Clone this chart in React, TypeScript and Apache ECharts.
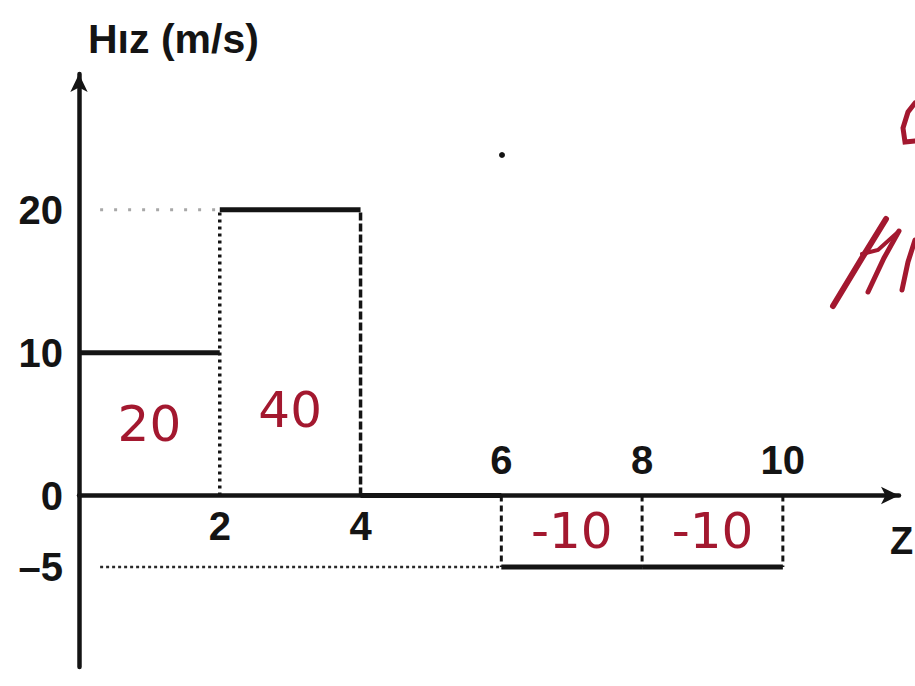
import React, { useEffect, useRef } from 'react';
import * as echarts from 'echarts';

// Velocity–time step graph: interval boundaries (s) and the constant speed (m/s) on each interval
const times = [0, 2, 4, 6, 8, 10];
const speeds = [10, 20, 0, -5, -5];

// Tick labels
const yTicks = [20, 10, 0, -5];
const xTicksBelow = [2, 4];
const xTicksAbove = [6, 8, 10];

const INK = '#141414';
const RED = '#a3182f';
const FONT = "'Liberation Sans', Arial, Helvetica, sans-serif";

// plot frame
const W = 915;
const H = 686;
const GRID = { left: 79, right: 16, top: 74, bottom: 19 };
const Y_MIN = -12;
const Y_MAX = 29.5;
const X_MAX = 11.65;

type Pt = [number, number];

export default function App() {
  const ref = useRef<HTMLDivElement>(null);

  useEffect(() => {
    if (!ref.current) return;
    const chart = echarts.init(ref.current, null, { renderer: 'svg' });

    // pixel row of v = 0 inside the grid, used to pin both x axes onto the zero line
    const plotH = H - GRID.top - GRID.bottom;
    const zeroY = GRID.top + (Y_MAX / (Y_MAX - Y_MIN)) * plotH;
    const bottomOffset = -(H - GRID.bottom - zeroY);
    const topOffset = -(zeroY - GRID.top);

    const seg = (pts: Pt[], lineStyle: any, z = 3) => ({
      type: 'line',
      data: pts,
      symbol: 'none',
      silent: true,
      z,
      lineStyle: { cap: 'butt', ...lineStyle },
    });

    // solid speed levels
    const stepSeries = speeds.map((v, i) =>
      seg([[times[i], v], [times[i + 1], v]], { color: INK, width: 5 }, 5)
    );

    // vertical guides at each boundary, up/down to the larger adjacent level
    const boundaryStyles: Record<number, any> = {
      2: { color: INK, width: 3.5, type: [3, 4] },
      4: { color: INK, width: 3.5, type: [8, 3] },
      6: { color: INK, width: 3, type: [6, 4] },
      8: { color: INK, width: 3, type: [6, 4] },
      10: { color: INK, width: 3, type: [6, 4] },
    };
    const verticalSeries = times.slice(1).map((t, k) => {
      const i = k + 1;
      const a = speeds[i - 1];
      const b = speeds[i] ?? 0;
      const level = Math.abs(a) >= Math.abs(b) ? a : b;
      return seg([[t, 0], [t, level]], boundaryStyles[t]);
    });

    // dotted horizontal guides from the vertical axis to where a new level starts
    const seen = new Set<number>();
    const guideSeries: any[] = [];
    speeds.forEach((v, i) => {
      if (v === 0 || seen.has(v)) return;
      seen.add(v);
      if (times[i] === 0) return;
      const style =
        v > 0
          ? { color: '#a8a8a8', width: 3, type: [3, 11] }
          : { color: '#2a2a2a', width: 2.5, type: [3, 3] };
      guideSeries.push(seg([[0.3, v], [times[i], v]], style, 2));
    });

    // handwritten area (displacement) of each interval
    const areaData = speeds
      .map((v, i) => ({
        value: [(times[i] + times[i + 1]) / 2, v > 0 ? Math.min(v / 2, 6) : v / 2],
        area: v * (times[i + 1] - times[i]),
      }))
      .filter((d) => d.area !== 0);

    const areaSeries = {
      type: 'scatter',
      data: areaData,
      symbolSize: 1,
      itemStyle: { color: 'rgba(0,0,0,0)' },
      silent: true,
      z: 6,
      label: {
        show: true,
        position: 'inside',
        formatter: (p: any) => String(p.data.area),
        color: RED,
        opacity: 1,
        fontSize: 50,
        fontFamily: "'DejaVu Sans', sans-serif",
        fontWeight: 'normal',
      },
      labelLayout: { hideOverlap: false },
    };

    const tickFont = {
      fontSize: 40,
      fontWeight: 'bold',
      fontFamily: FONT,
      color: INK,
    };

    const xCommon = {
      type: 'value',
      min: 0,
      max: X_MAX,
      splitLine: { show: false },
      axisTick: { show: false },
    };

    const option: any = {
      animation: false,
      backgroundColor: '#ffffff',
      grid: { ...GRID, outerBoundsMode: 'none' },
      xAxis: [
        {
          ...xCommon,
          position: 'bottom',
          offset: bottomOffset,
          name: 'Z',
          nameLocation: 'end',
          nameGap: -9,
          nameTextStyle: {
            ...tickFont,
            fontSize: 38,
            align: 'left',
            verticalAlign: 'top',
            padding: [26, 0, 0, 0],
          },
          axisLine: {
            show: true,
            onZero: false,
            symbol: ['none', 'arrow'],
            symbolSize: [13, 18],
            lineStyle: { color: INK, width: 4.5 },
          },
          axisLabel: { ...tickFont, customValues: xTicksBelow, margin: 10 },
        },
        {
          ...xCommon,
          position: 'top',
          offset: topOffset,
          axisLine: { show: false, onZero: false },
          axisLabel: { ...tickFont, customValues: xTicksAbove, margin: 16 },
        },
      ],
      yAxis: {
        type: 'value',
        min: Y_MIN,
        max: Y_MAX,
        name: 'Hız (m/s)',
        nameLocation: 'end',
        nameGap: 15,
        nameTextStyle: {
          ...tickFont,
          fontSize: 41,
          align: 'left',
          verticalAlign: 'bottom',
          padding: [0, 0, 0, 9],
        },
        splitLine: { show: false },
        axisTick: { show: false },
        axisLine: {
          show: true,
          onZero: false,
          symbol: ['none', 'arrow'],
          symbolSize: [13, 18],
          lineStyle: { color: INK, width: 4.5 },
        },
        axisLabel: {
          ...tickFont,
          customValues: yTicks,
          margin: 16,
          formatter: (v: number) => String(v).replace('-', '–'),
        },
      },
      graphic: [
        // red ink marks at the right-hand margin
        {
          type: 'polyline',
          shape: { points: [[833, 306], [862, 258], [886, 219]] },
          style: { stroke: RED, lineWidth: 6, fill: null, lineCap: 'round' },
        },
        {
          type: 'polyline',
          shape: { points: [[868, 292], [884, 258], [899, 231]] },
          style: { stroke: RED, lineWidth: 5, fill: null, lineCap: 'round' },
        },
        {
          type: 'polyline',
          shape: { points: [[862, 254], [878, 250], [898, 232]] },
          style: { stroke: RED, lineWidth: 4, fill: null, lineCap: 'round' },
        },
        {
          type: 'polyline',
          shape: { points: [[902, 290], [908, 262], [915, 240]] },
          style: { stroke: RED, lineWidth: 5, fill: null, lineCap: 'round' },
        },
        {
          type: 'polyline',
          shape: { points: [[915, 103], [908, 112], [903, 128], [905, 142], [915, 141]] },
          style: { stroke: RED, lineWidth: 5, fill: null, lineCap: 'round' },
        },
        {
          type: 'circle',
          shape: { cx: 502, cy: 155, r: 3 },
          style: { fill: INK },
        },
      ],
      series: [...guideSeries, ...verticalSeries, ...stepSeries, areaSeries],
    };

    chart.setOption(option);
    return () => chart.dispose();
  }, []);

  return (
    <div
      ref={ref}
      style={{ position: 'absolute', left: 0, top: 0, width: W, height: H, background: '#fff' }}
    />
  );
}
